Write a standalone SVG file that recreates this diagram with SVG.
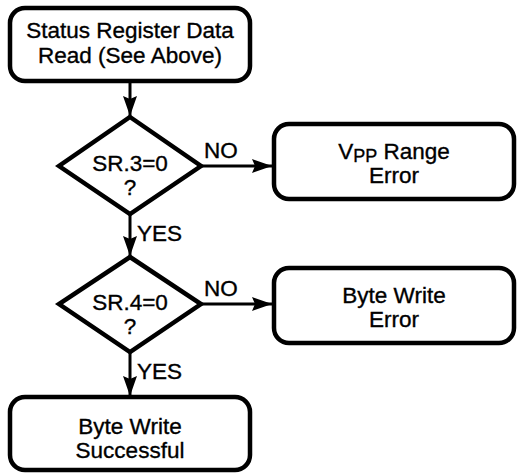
<svg xmlns="http://www.w3.org/2000/svg" width="517" height="473" viewBox="0 0 517 473">
<style>
.box{fill:#fff;stroke:#000;stroke-width:4.5}
.dia{fill:#fff;stroke:#000;stroke-width:4.5;stroke-linejoin:miter}
.t{font-family:"Liberation Sans",Arial,sans-serif;font-size:22.5px;fill:#000;stroke:#000;stroke-width:0.35;text-anchor:middle}
.l{font-family:"Liberation Sans",Arial,sans-serif;font-size:22.5px;fill:#000;stroke:#000;stroke-width:0.35}
.c{stroke:#000;stroke-width:3;fill:none}
</style>
<defs>
<marker id="ah" viewBox="0 0 20 14" refX="20" refY="7" markerWidth="20" markerHeight="14" markerUnits="userSpaceOnUse" orient="auto">
<path d="M0,0 L20,7 L0,14 L3,7 Z" fill="#000"/>
</marker>
</defs>
<rect width="517" height="473" fill="#fff"/>
<g id="connectors">
<line class="c" x1="130" y1="82" x2="130" y2="116" marker-end="url(#ah)"/>
<line class="c" x1="130" y1="214" x2="130" y2="256" marker-end="url(#ah)"/>
<line class="c" x1="130" y1="352" x2="130" y2="396" marker-end="url(#ah)"/>
<line class="c" x1="201" y1="166" x2="272" y2="166" marker-end="url(#ah)"/>
<line class="c" x1="201" y1="304" x2="272" y2="304" marker-end="url(#ah)"/>
<text class="l" x="204" y="158">NO</text>
<text class="l" x="137" y="241">YES</text>
<text class="l" x="204" y="296">NO</text>
<text class="l" x="137" y="379">YES</text>
</g>
<g id="start">
<rect class="box" x="10" y="8" width="240" height="73" rx="15"/>
<text class="t" x="130" y="38">Status Register Data</text>
<text class="t" x="130" y="63">Read (See Above)</text>
</g>
<g id="sr3">
<polygon class="dia" points="130,117 201,166 130,214 59,166"/>
<text class="t" x="130" y="171">SR.3=0</text>
<text class="t" x="130" y="195">?</text>
</g>
<g id="vpp">
<rect class="box" x="274" y="124" width="240" height="75" rx="15"/>
<text class="t" x="394" y="159">V<tspan font-size="18" dy="3">PP</tspan><tspan dy="-3"> Range</tspan></text>
<text class="t" x="394" y="183">Error</text>
</g>
<g id="sr4">
<polygon class="dia" points="130,257 201,304 130,352 59,304"/>
<text class="t" x="130" y="310">SR.4=0</text>
<text class="t" x="130" y="334">?</text>
</g>
<g id="bwerr">
<rect class="box" x="274" y="268" width="240" height="75" rx="15"/>
<text class="t" x="394" y="303">Byte Write</text>
<text class="t" x="394" y="327">Error</text>
</g>
<g id="bwok">
<rect class="box" x="10" y="397" width="240" height="73" rx="15"/>
<text class="t" x="130" y="434">Byte Write</text>
<text class="t" x="130" y="458">Successful</text>
</g>
</svg>
